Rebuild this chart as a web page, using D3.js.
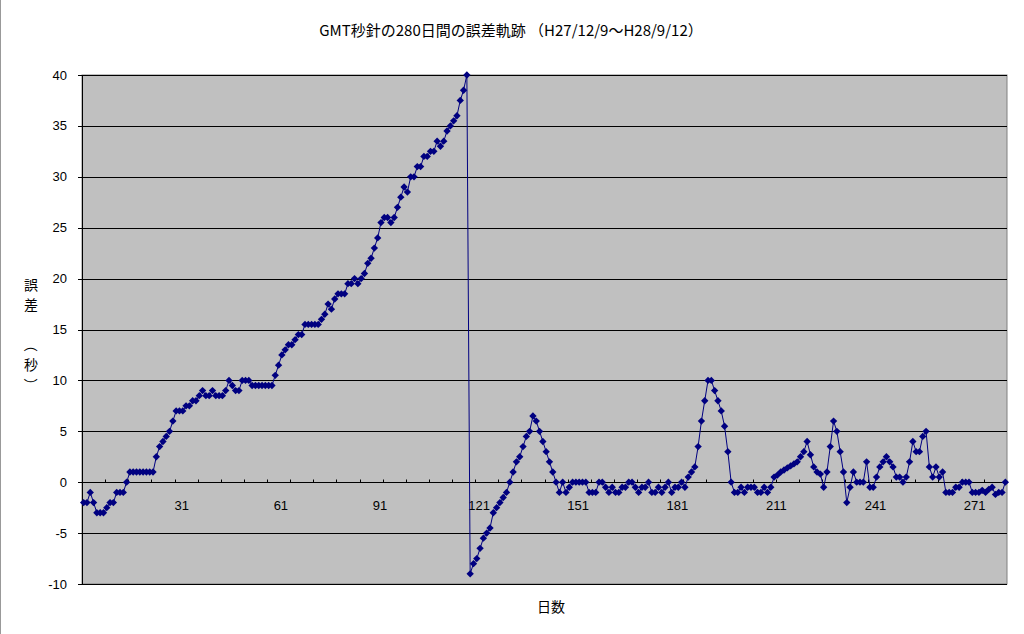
<!DOCTYPE html>
<html>
<head>
  <meta charset="utf-8">
  <title>GMT秒針の280日間の誤差軌跡</title>
  <script src="https://cdnjs.cloudflare.com/ajax/libs/d3/7.8.5/d3.min.js"></script>
  <style>
    body { margin: 0; background: #fff; }
    text { font-family: "Liberation Sans", Arial, sans-serif; fill: #000; }
    .jp { font-family: "Noto Sans CJK JP", sans-serif; }
  </style>
</head>
<body>
<div id="chart"></div>
<script>

// error of the GMT second hand, seconds, day 1 .. 280
var errorSec = [
  -2, -2, -1, -2, -3, -3, -3, -2.5, -2, -2,
  -1, -1, -1, 0, 1, 1, 1, 1, 1, 1,
  1, 1, 2.5, 3.5, 4, 4.5, 5, 6, 7, 7,
  7, 7.5, 7.5, 8, 8, 8.5, 9, 8.5, 8.5, 9,
  8.5, 8.5, 8.5, 9, 10, 9.5, 9, 9, 10, 10,
  10, 9.5, 9.5, 9.5, 9.5, 9.5, 9.5, 9.5, 10.5, 11.5,
  12.5, 13, 13.5, 13.5, 14, 14.5, 14.5, 15.5, 15.5, 15.5,
  15.5, 15.5, 16, 16.5, 17.5, 17, 18, 18.5, 18.5, 18.5,
  19.5, 19.5, 20, 19.5, 20, 20.5, 21.5, 22, 23, 24,
  25.5, 26, 26, 25.5, 26, 27, 28, 29, 28.5, 30,
  30, 31, 31, 32, 32, 32.5, 32.5, 33.5, 33, 33.5,
  34.5, 35, 35.5, 36, 37.5, 38.5, 40, -9, -8, -7.5,
  -6.5, -5.5, -5, -4.5, -3, -2.5, -2, -1.5, -1, 0,
  1, 2, 2.5, 3.5, 4.5, 5, 6.5, 6, 5, 4,
  3, 2, 1, 0, -1, 0, -1, -0.5, 0, 0,
  0, 0, 0, -1, -1, -1, 0, 0, -0.5, -1,
  -0.5, -1, -1, -0.5, -0.5, 0, 0, -0.5, -1, -0.5,
  -0.5, 0, -1, -1, -0.5, -1, -0.5, 0, -1, -0.5,
  -0.5, 0, -0.5, 0.5, 1, 1.5, 3.5, 6, 8, 10,
  10, 9, 8, 7, 5.5, 3, 0, -1, -1, -0.5,
  -1, -0.5, -0.5, -0.5, -1, -1, -0.5, -1, -0.5, 0.5,
  0.7, 1, 1.2, 1.4, 1.6, 1.8, 2, 2.5, 3, 4,
  2.7, 1.5, 1, 0.8, -0.5, 1, 3.5, 6, 5, 3,
  1, -2, -0.5, 1, 0, 0, 0, 2, -0.5, -0.5,
  0.5, 1.5, 2, 2.5, 2, 1.5, 0.5, 0.5, 0, 0.5,
  2, 4, 3, 3, 4.5, 5, 1.5, 0.5, 1.5, 0.5,
  1, -1, -1, -1, -0.5, -0.5, 0, 0, 0, -1,
  -1, -1, -0.8, -1, -0.7, -0.5, -1.2, -1, -1, 0
];
var days = d3.range(1, errorSec.length + 1);
var xLabels = [31, 61, 91, 121, 151, 181, 211, 241, 271];
var yTicks = [-10, -5, 0, 5, 10, 15, 20, 25, 30, 35, 40];
var yTitle = ["誤", "差", "（", "秒", "）"];

var margin = {top: 75, right: 17, bottom: 50, left: 82},
    width = 1024 - margin.left - margin.right,
    height = 584 - margin.top;

var svg = d3.select("#chart")
  .append("svg")
    .attr("width", 1024)
    .attr("height", 634);

// left edge of the chart area
svg.append("line")
  .attr("x1", 0.5).attr("x2", 0.5)
  .attr("y1", 0).attr("y2", 634)
  .attr("stroke", "#999");

svg.append("text")
  .attr("class", "jp")
  .attr("x", 511)
  .attr("y", 36)
  .attr("text-anchor", "middle")
  .style("font-size", "15px")
  .text("GMT秒針の280日間の誤差軌跡 （H27/12/9〜H28/9/12）");

var g = svg.append("g")
  .attr("transform", "translate(" + margin.left + "," + margin.top + ")");

var x = d3.scaleBand().domain(days).range([0, width]);
var y = d3.scaleLinear().domain([-10, 40]).range([height, 0]);
var cx = d => x(d) + x.bandwidth() / 2;
var py = v => Math.round(y(v)) + 0.5;

g.append("rect")
  .attr("width", width)
  .attr("height", height)
  .attr("fill", "#c0c0c0")
  .attr("stroke", "#808080");

// horizontal gridlines
g.selectAll(".grid")
  .data(yTicks)
  .enter()
  .append("line")
    .attr("x1", 0).attr("x2", width)
    .attr("y1", py).attr("y2", py)
    .attr("stroke", "#000");

// y axis
g.append("line")
  .attr("x1", 0.5).attr("x2", 0.5)
  .attr("y1", 0).attr("y2", height)
  .attr("stroke", "#000");

g.selectAll(".ytick")
  .data(yTicks)
  .enter()
  .append("line")
    .attr("x1", -4).attr("x2", 0)
    .attr("y1", py).attr("y2", py)
    .attr("stroke", "#000");

g.selectAll(".ylabel")
  .data(yTicks)
  .enter()
  .append("text")
    .attr("x", -15)
    .attr("y", d => y(d))
    .attr("dy", "0.35em")
    .attr("text-anchor", "end")
    .style("font-size", "13px")
    .text(d => d);

// category axis at 0, tick marks every 7 days
var tickDays = days.filter(d => d > 1 && d % 7 === 1);
g.selectAll(".xtick")
  .data(tickDays)
  .enter()
  .append("line")
    .attr("x1", d => Math.round(x(d)) + 0.5)
    .attr("x2", d => Math.round(x(d)) + 0.5)
    .attr("y1", py(0) - 3).attr("y2", py(0))
    .attr("stroke", "#000");

g.selectAll(".xlabel")
  .data(xLabels)
  .enter()
  .append("text")
    .attr("x", d => cx(d) - 1)
    .attr("y", py(0) + 27)
    .attr("text-anchor", "middle")
    .style("font-size", "13px")
    .text(d => d);

// series
var line = d3.line()
  .x((v, i) => cx(days[i]))
  .y(v => y(v));

g.append("path")
  .datum(errorSec)
  .attr("d", line)
  .attr("fill", "none")
  .attr("stroke", "#000080")
  .attr("stroke-width", 1);

g.selectAll(".pt")
  .data(errorSec)
  .enter()
  .append("path")
    .attr("d", d3.symbol().type(d3.symbolSquare).size(27))
    .attr("transform", (v, i) => "translate(" + cx(days[i]) + "," + y(v) + ")rotate(45)")
    .attr("fill", "#000080");

// axis titles
svg.append("text")
  .attr("class", "jp")
  .attr("x", 551)
  .attr("y", 612)
  .attr("text-anchor", "middle")
  .style("font-size", "14px")
  .text("日数");

var titleY = [285, 305, 345, 365, 385];
svg.selectAll(".ytitle")
  .data(yTitle)
  .enter()
  .append("text")
    .attr("class", "jp")
    .attr("text-anchor", "middle")
    .attr("dy", "0.35em")
    .attr("transform", (d, i) => "translate(31," + titleY[i] + ")" + (d === "（" || d === "）" ? "rotate(90)" : ""))
    .style("font-size", "14px")
    .text(d => d);

</script>
</body>
</html>
